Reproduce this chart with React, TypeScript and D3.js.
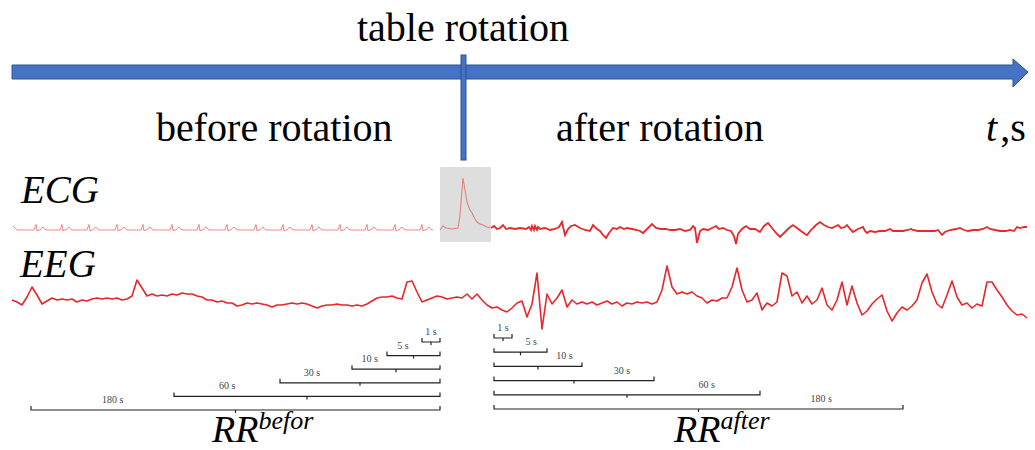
import * as d3 from "d3";
import React, { useEffect, useRef } from "react";

const width = 1035;
const height = 450;
const serif = "'Liberation Serif', 'Times New Roman', serif";

// EEG amplitude, one sample per step across the whole record
const eegValues = [
  0, -2, -5, 3, 13, 5, -4, -1, 2, 0, 1, 0, 1, -2, 0, -1, 1, 2, 1, 2,
  1, 2, 0, 1, 4, 20, 12, 4, 6, 4, 5, 4, 6, 5, 7, 6, 6, 4, 3, 0,
  0, -2, -1, -3, -3, -6, -5, -3, -4, -3, -4, -5, -7, -5, -5, -4, -3, -4, -3, -4,
  -6, -8, -6, -5, -5, -4, -5, -5, -6, -5, -6, -4, -1, 2, 3, 3, 4, 2, 1, 18,
  19, 8, -2, 0, 2, 4, 3, 1, 2, 3, 2, 6, 1, 6, 0, -5, -8, -7, -10, -12,
  -8, -3, -1, -17, -4, 27, -29, 6, -4, 2, 10, -7, 0, -4, -2, -4, -2, -5, -3, -1,
  -4, -2, -6, -3, -4, -2, -3, -2, -4, -2, 10, 34, 13, 6, 8, 6, 8, 4, 2, -3,
  0, -1, 2, 2, 13, 32, 10, -2, 0, 7, -10, -3, -6, -2, 27, 24, 4, 8, -3, 4,
  -4, 0, 12, -5, -10, 0, 18, -5, 14, -3, -15, -11, -4, 1, 5, -11, -21, -13, -7, -10,
  -6, 0, 17, 26, 8, -4, -8, 5, 19, 3, -5, -3, -8, -4, -6, 18, 18, 10, 3, -5,
  -11, -15, -14, -18,
];

// ECG before rotation: R-peak times and the shape of one beat [dt, amp]
const ecgLead = [[1, 4], [5, 0]];
const ecgBeatTimes = [24, 50, 77, 105, 131, 160, 187, 215, 244, 271, 300, 328, 355, 383, 410];
const ecgBeatShape = [[-2, 0], [0, 5.5], [1, -1], [2, 0], [4, 0], [6, 2.5], [7, 3], [9, 0.5], [11, 0]];

// ECG during table rotation [t, amp]
const ecgRotation = [
  [428, 0], [431, 4], [434, 2], [440, 1], [446, 2], [448, 15], [451, 52], [453, 40],
  [455, 28], [458, 20], [460, 17], [463, 11], [465, 8], [468, 6], [471, 5], [475, 3], [478, 2],
];

// ECG after rotation [t, amp]
const ecgAfter = [
  [479, 2], [482, 4], [485, 1], [488, 2], [491, 5], [494, 1], [498, 2], [503, 1], [508, 2],
  [514, 1], [517, 3], [519, 0], [520, 4], [522, 0], [523, 4], [525, 0], [526, 3], [528, 1],
  [533, 2], [538, 0], [543, 1], [547, 3], [550, 8], [553, -5], [556, 1], [559, 4], [563, 5],
  [568, 2], [573, 0], [578, -1], [581, 5], [585, 1], [588, -1], [591, -5], [594, -8], [597, -3],
  [601, 2], [605, 1], [608, 3], [612, 1], [615, 2], [620, 1], [625, 0], [628, -1], [631, -3],
  [635, 1], [640, 6], [644, 2], [649, 1], [654, 1], [658, 0], [663, 0], [668, 1], [673, -1],
  [678, 0], [681, 4], [683, 2], [685, -13], [688, -1], [691, 1], [696, 0], [700, 2], [704, 4],
  [707, 1], [711, 2], [715, 0], [719, -1], [722, -6], [724, -14], [726, -4], [730, 1], [734, 4],
  [738, 1], [743, 1], [748, -2], [752, 4], [756, 7], [760, 2], [764, -3], [768, -7], [772, -3],
  [777, 2], [781, 5], [785, 2], [789, -1], [793, -4], [795, -5], [799, 0], [804, 5], [808, 8],
  [812, 5], [816, 3], [820, 2], [824, 4], [826, 5], [829, 2], [833, 3], [835, 5], [838, 1],
  [841, -2], [846, 1], [851, 3], [853, -1], [855, -3], [858, -1], [863, -2], [868, -1], [873, -1],
  [878, 1], [881, -1], [885, -1], [891, -1], [896, 0], [899, 1], [901, 0], [906, -1], [913, -1],
  [918, -1], [923, -1], [926, 0], [930, -5], [933, -2], [938, 0], [944, 1], [948, 2], [952, 0],
  [956, -1], [961, 0], [966, 0], [971, 1], [975, 3], [978, 1], [983, 0], [988, -1], [994, -1],
  [998, 0], [1002, -1], [1005, 3], [1008, 2], [1012, 3], [1015, 3],
];

// averaging windows for RR
const windows = [1, 5, 10, 30, 60, 180];
const windowLabels = windows.map((w) => `${w} s`);

export default function App() {
  const holderRef = useRef<HTMLDivElement | null>(null);

  useEffect(() => {
    const holder = holderRef.current;
    if (!holder || holder.hasChildNodes()) return;

    const svg = d3
      .select(holder)
      .append("svg")
      .attr("width", width)
      .attr("height", height)
      .attr("style", "position: absolute; left: 0; top: 0; background: white;");

    // time axis arrow
    const ax0 = 12, ax1 = 1013, ay = 72;
    svg
      .append("path")
      .attr(
        "d",
        `M${ax0},${ay - 7}L${ax1},${ay - 7}L${ax1},${ay - 13}L${ax1 + 15},${ay}L${ax1},${ay + 15}L${ax1},${ay + 7}L${ax0},${ay + 7}Z`
      )
      .attr("fill", "#4472c4")
      .attr("stroke", "#2f528f")
      .attr("stroke-width", 1);

    svg
      .append("rect")
      .attr("x", 461)
      .attr("y", 55)
      .attr("width", 5)
      .attr("height", 105)
      .attr("fill", "#4472c4")
      .attr("stroke", "#2f528f")
      .attr("stroke-width", 1);

    const big = svg.append("g").attr("font-family", serif).attr("fill", "#000");
    big.append("text").attr("x", 463).attr("y", 41).attr("font-size", 40).attr("text-anchor", "middle").text("table rotation");
    big.append("text").attr("x", 156).attr("y", 141).attr("font-size", 40).text("before rotation");
    big.append("text").attr("x", 556).attr("y", 141).attr("font-size", 40).text("after rotation");
    const ts = big.append("text").attr("x", 986).attr("y", 141).attr("font-size", 40);
    ts.append("tspan").attr("font-style", "italic").text("t");
    ts.append("tspan").attr("dx", 3).text(",s");
    big.append("text").attr("x", 21).attr("y", 203).attr("font-size", 39).attr("font-style", "italic").text("ECG");
    big.append("text").attr("x", 20).attr("y", 277).attr("font-size", 39).attr("font-style", "italic").text("EEG");

    // gray highlight of the rotation moment
    svg.append("rect").attr("x", 440).attr("y", 167).attr("width", 51).attr("height", 75).attr("fill", "#dedede");

    const x = d3.scaleLinear().domain([0, 1015]).range([12, 1027]);
    const yEcg = d3.scaleLinear().domain([-20, 60]).range([250, 170]);
    const ecgLine = d3
      .line<number[]>()
      .x((d) => x(d[0]))
      .y((d) => yEcg(d[1]));

    const ecgBefore: number[][] = [...ecgLead];
    ecgBeatTimes.forEach((t) => ecgBeatShape.forEach(([dt, a]) => ecgBefore.push([t + dt, a])));

    svg.append("path").attr("d", ecgLine(ecgBefore)).attr("fill", "none").attr("stroke", "#e84a4a").attr("stroke-opacity", 0.65).attr("stroke-width", 1);
    svg.append("path").attr("d", ecgLine(ecgRotation)).attr("fill", "none").attr("stroke", "#e06a6a").attr("stroke-opacity", 0.8).attr("stroke-width", 1.1);
    svg.append("path").attr("d", ecgLine(ecgAfter)).attr("fill", "none").attr("stroke", "#e8282b").attr("stroke-width", 1.8);

    const xEeg = d3.scaleLinear().domain([0, eegValues.length - 1]).range([12, 1027]);
    const yEeg = d3.scaleLinear().domain([-30, 40]).range([330, 260]);
    svg
      .append("path")
      .attr(
        "d",
        d3
          .line<number>()
          .x((d, i) => xEeg(i))
          .y((d) => yEeg(d))(eegValues)
      )
      .attr("fill", "none")
      .attr("stroke", "#e8262b")
      .attr("stroke-width", 1.6)
      .attr("stroke-linejoin", "round");

    // RR averaging brackets
    const span = d3.scaleLinear().domain([0, ...windows]).range([0, 18, 53, 88, 160, 266, 409]);
    const labelFrac = [0.5, 0.3, 0.2, 0.2, 0.2, 0.2];
    const sides = [
      { y: d3.scalePoint().domain(windows.map(String)).range([342, 410]), anchor: 440, before: true },
      { y: d3.scalePoint().domain(windows.map(String)).range([338, 409]), anchor: 494, before: false },
    ];
    sides.forEach((side) => {
      const g = svg.append("g");
      windows.forEach((w, i) => {
        const len = span(w);
        const x0 = side.before ? side.anchor - len : side.anchor;
        const x1 = x0 + len;
        const xm = (x0 + x1) / 2;
        const yy = side.y(String(w)) as number;
        g.append("path")
          .attr("d", `M${x0},${yy - 4}L${x0},${yy}L${x1},${yy}L${x1},${yy - 4}M${xm},${yy}L${xm},${yy + 3}`)
          .attr("fill", "none")
          .attr("stroke", "#222")
          .attr("stroke-width", 1.2);
        const lx = side.before ? x0 + labelFrac[i] * len : x1 - labelFrac[i] * len;
        g.append("text")
          .attr("x", lx)
          .attr("y", yy - 7)
          .attr("text-anchor", "middle")
          .attr("font-family", serif)
          .attr("font-size", 10)
          .attr("fill", "#444")
          .text(windowLabels[i]);
      });
    });

    const rr = svg.append("g").attr("font-family", serif).attr("font-style", "italic");
    const rb = rr.append("text").attr("x", 212).attr("y", 442).attr("font-size", 38);
    rb.append("tspan").text("RR");
    rb.append("tspan").attr("font-size", 26).attr("dy", -13).text("befor");
    const ra = rr.append("text").attr("x", 674).attr("y", 442).attr("font-size", 38);
    ra.append("tspan").text("RR");
    ra.append("tspan").attr("font-size", 26).attr("dy", -13).text("after");
  }, []);

  return <div ref={holderRef} />;
}
